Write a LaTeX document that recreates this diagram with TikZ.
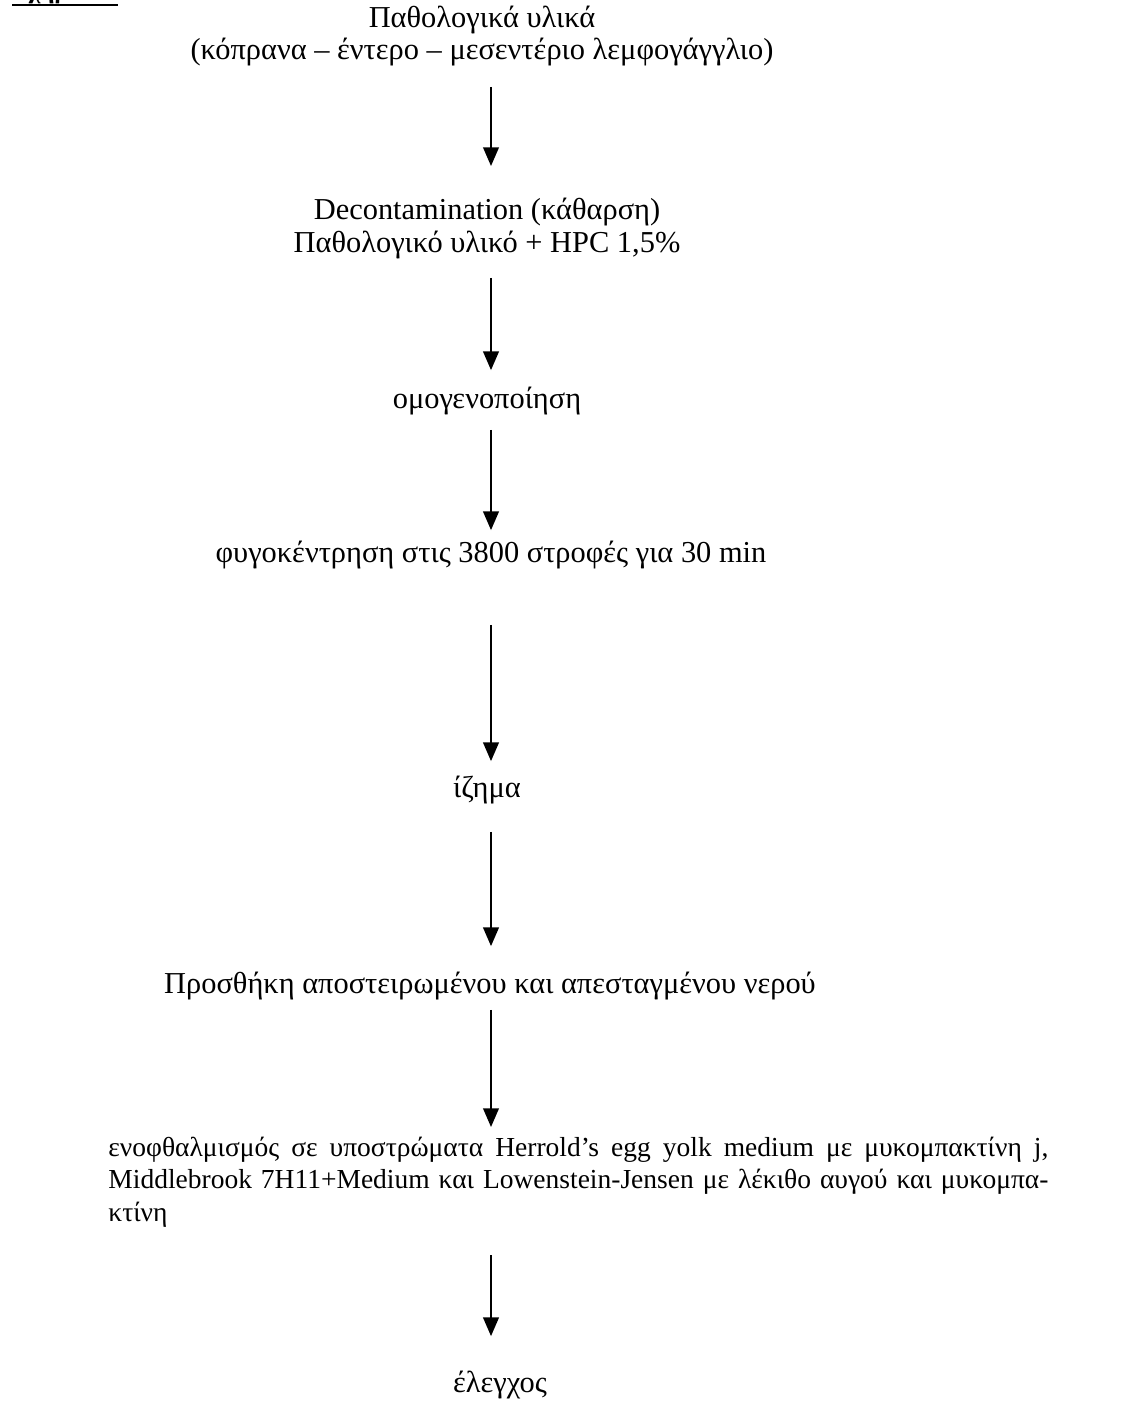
\documentclass[tikz,border=0pt]{standalone}
\usepackage{fontspec}
\setmainfont{Liberation Serif}
\usetikzlibrary{arrows.meta}
\def\pu{0.48pt}
\tikzset{
  stage/.style={inner sep=0pt, anchor=base, align=center, font=\fontsize{14.6}{15.4}\selectfont},
  flow/.style={-{Triangle[width=7.5pt,length=9pt]}, line width=1pt}
}
\begin{document}
\begin{tikzpicture}[x=\pu, y=-\pu, line cap=butt]
  \useasboundingbox (0,0) rectangle (1121,1407);
  % caption, cut off by the page edge
  \node[inner sep=0pt, anchor=base west, font=\fontsize{12}{14}\selectfont\bfseries] (caption) at (12,-1) {Σχήμα 2:};
  \draw[line width=1pt] (12,5) -- (118,5);
  \coordinate (ax) at (491,0);
  % steps (base = baseline of the last line)
  \node[stage] (material) at (482,60) {Παθολογικά υλικά\\(κόπρανα – έντερο – μεσεντέριο λεμφογάγγλιο)};
  \node[stage] (decon) at (487,252) {Decontamination (κάθαρση)\\Παθολογικό υλικό + HPC 1,5\%};
  \node[stage] (homog) at (487,408) {ομογενοποίηση};
  \node[stage] (centrif) at (491,562) {φυγοκέντρηση στις 3800 στροφές για 30 min};
  \node[stage] (sediment) at (487,797) {ίζημα};
  \node[stage] (water) at (490,993) {Προσθήκη αποστειρωμένου και απεσταγμένου νερού};
  \node[stage, anchor=base west, align=left, font=\fontsize{13.2}{15.4}\selectfont] (inoc) at (108,1221) {%
    \makebox[451.2pt][s]{ενοφθαλμισμός σε υποστρώματα Herrold’s egg yolk medium με μυκομπακτίνη j,}\\
    \makebox[451.2pt][s]{Middlebrook 7H11+Medium και Lowenstein-Jensen με λέκιθο αυγού και μυκομπα-}\\
    κτίνη};
  \node[stage] (check) at (500,1392) {έλεγχος};
  % arrows
  \draw[flow, shorten <=20*\pu, shorten >=32*\pu] (material.south -| ax) -- (decon.north -| ax);
  \draw[flow, shorten <=19*\pu, shorten >=16*\pu] (decon.south -| ax) -- (homog.north -| ax);
  \draw[flow, shorten <=15*\pu, shorten >=10*\pu] (homog.south -| ax) -- (centrif.north -| ax);
  \draw[flow, shorten <=56*\pu, shorten >=14*\pu] (centrif.south -| ax) -- (sediment.north -| ax);
  \draw[flow, shorten <=28*\pu, shorten >=25*\pu] (sediment.south -| ax) -- (water.north -| ax);
  \draw[flow, shorten <=10*\pu, shorten >=10*\pu] (water.south -| ax) -- (inoc.north -| ax);
  \draw[flow, shorten <=28*\pu, shorten >=34*\pu] (inoc.south -| ax) -- (check.north -| ax);
\end{tikzpicture}
\end{document}
